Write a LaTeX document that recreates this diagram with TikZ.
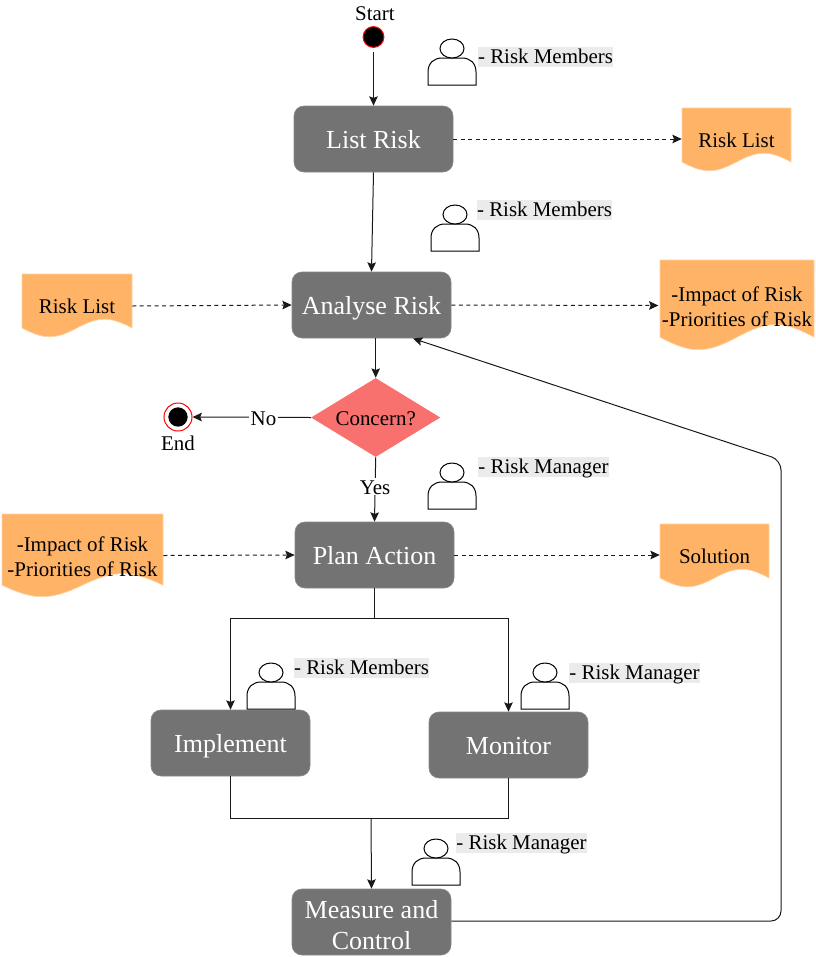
\documentclass[tikz,border=0pt]{standalone}
\usepackage{fontspec}
\setmainfont{Liberation Serif}
\usetikzlibrary{arrows.meta,shapes.geometric,calc}
\definecolor{boxgrey}{HTML}{737373}
\definecolor{docfill}{HTML}{FFB366}
\definecolor{docline}{HTML}{FFD2A6}
\definecolor{labgrey}{HTML}{EBEBEB}
\definecolor{diafill}{HTML}{F8716F}
\definecolor{startred}{HTML}{FF0000}
\newcommand{\basestrut}{\vrule height 14.3pt depth 3.7pt width 0pt\relax}
\newcommand{\stagestrut}{\vrule height 19pt depth 4.2pt width 0pt\relax}
\newcommand{\lowerbase}{\vrule height 16.55pt depth 0pt width 0pt\relax}
\newcommand{\lowerstage}{\vrule height 22pt depth 0pt width 0pt\relax}
\newcommand{\lowerdia}{\vrule height 15.6pt depth 0pt width 0pt\relax}
\tikzset{
  basestruts/.style={execute at begin node=\basestrut,execute at end node=\basestrut},
  stagestruts/.style={execute at begin node=\stagestrut,execute at end node=\stagestrut},
  basetext/.style={font=\fontsize{15.7}{18.75}\selectfont,text=black,align=center,inner sep=0pt,basestruts},
  stagebox/.style={rectangle,rounded corners=7.5pt,fill=boxgrey,draw=boxgrey!85,line width=.5pt,
    minimum width=119.25pt,minimum height=49.5pt,inner sep=0pt,text=white,align=center,stagestruts,
    font=\fontsize{19.5}{23.25}\selectfont},
  decision/.style={diamond,aspect=1.62,fill=diafill,inner sep=0pt,minimum width=97pt,minimum height=59.25pt,
    font=\fontsize{15.7}{18.75}\selectfont,text=black,basestruts},
  flow/.style={-{Stealth[length=7pt,width=6.4pt,inset=1.2pt]},line width=.75pt,draw=black!90},
  plainline/.style={line width=.75pt,draw=black!90},
  dataflow/.style={flow,dash pattern=on 3pt off 2.6pt},
  rolelabel/.style={font=\fontsize{15.7}{18.75}\selectfont,text=black,inner xsep=0pt,inner ysep=0pt,fill=labgrey,anchor=center,text height=12pt,text depth=3pt},
  personline/.style={line width=.75pt,draw=black,fill=white},
  edgelabel/.style={font=\fontsize{15.7}{18.75}\selectfont,text=black,fill=white,inner xsep=1pt,inner ysep=0pt,text height=12.1pt,text depth=.4pt},
}
\newcommand{\docnode}[4]{% x1 y1 x2 y2
  \fill[docfill,draw=docline,line width=.5pt]
    let \n1={#1},\n2={#2},\n3={#3},\n4={#4},\n5={(#3-#1)},\n6={(#4-#2)/7},\n7={#4-(#4-#2)/7} in
    (\n1,\n2) -- (\n3,\n2) -- (\n3,\n7)
    .. controls ({\n3-.2*\n5},{\n7-1.3*\n6}) and ({\n3-.3*\n5},{\n7-1.3*\n6}) .. ({\n1+.5*\n5},\n7)
    .. controls ({\n1+.3*\n5},{\n7+1.3*\n6}) and ({\n1+.2*\n5},{\n7+1.3*\n6}) .. (\n1,\n7) -- cycle;
}
\newcommand{\persona}[2]{%
  \begin{scope}[shift={(#1,#2)}]
    \draw[personline] (0,46) -- (0,33) .. controls (0,24) and (6,19) .. (14,19) -- (34,19)
       .. controls (42,19) and (48,24) .. (48,33) -- (48,46) -- cycle;
    \draw[personline] (24,9.5) ellipse [x radius=12,y radius=9.5];
  \end{scope}}
\begin{document}
\begin{tikzpicture}[x=.75pt,y=-.75pt]
\useasboundingbox (0,0) rectangle (816,957);
% documents
\docnode{682}{108}{791}{171}
\docnode{660}{260}{814}{350}
\docnode{22}{274}{132}{337}
\docnode{2}{514}{163}{597}
\docnode{660}{524}{769}{587}
\node[basetext,minimum width=81.75pt] (docA) at (736.5,140) {Risk List};
\node[basetext,minimum width=115.5pt] (docB) at (737,305.5) {\lowerbase -Impact of Risk\\-Priorities of Risk};
\node[basetext,minimum width=82.5pt] (docC) at (77,306) {Risk List};
\node[basetext,minimum width=120.75pt] (docD) at (82.5,555.5) {\lowerbase -Impact of Risk\\-Priorities of Risk};
\node[basetext,minimum width=81.75pt] (docE) at (714.5,556) {Solution};
% stages
\node[stagebox] (list) at (373.5,139) {List Risk};
\node[stagebox] (analyse) at (371.5,305) {Analyse Risk};
\node[stagebox] (plan) at (374.5,555) {Plan Action};
\node[stagebox] (impl) at (230.5,743) {Implement};
\node[stagebox] (moni) at (508.5,745) {Monitor};
\node[stagebox] (meas) at (371.5,922) {\lowerstage Measure and\\Control};
\node[decision] (concern) at (375.7,417.5) {\lowerdia Concern?};
% start / end
\node[circle,fill=black,draw=startred,line width=.75pt,minimum size=15.6pt,inner sep=0pt] (start) at (373.5,37) {};
\node[basetext] (startlabel) at (375,13) {Start};
\node[circle,draw=startred,line width=.75pt,minimum size=21pt,inner sep=0pt] (endo) at (178,417) {};
\node[circle,fill=black,minimum size=14.5pt,inner sep=0pt] (endi) at (178,417) {};
\node[basetext] (endlabel) at (178,443) {End};
% junctions
\coordinate (j1) at (plan.south |- 0,618);
\coordinate (jl) at (impl.north |- j1);
\coordinate (jr) at (moni.north |- j1);
\coordinate (k1) at (impl.south |- 0,818);
\coordinate (k2) at (moni.south |- k1);
\coordinate (k3) at (371,818);
\coordinate (c1) at (781,921);
\coordinate (c2) at (781,460);
\coordinate (an1) at (413,338.5);
% connectors
\draw[flow] ([yshift=-3pt]start.south) -- (list.north);
\draw[flow] (list.south) -- (analyse.north);
\draw[flow] (analyse.south -| concern.north) -- (concern.north);
\draw[flow] (concern.west) -- node[edgelabel,pos=.40] (nolabel) {No} (endo.east);
\draw[flow] (concern.south) -- node[edgelabel,pos=.45] (yeslabel) {Yes} (plan.north);
\draw[dataflow] (list.east) -- (list.east -| docA.west);
\draw[dataflow] (docC.east) -- (analyse.west);
\draw[dataflow] (analyse.east) -- ([xshift=-1pt]docB.west);
\draw[dataflow] (docD.east) -- (plan.west);
\draw[dataflow] (plan.east) -- (plan.east -| docE.west);
\draw[plainline] (plan.south) -- (j1);
\draw[flow] (j1) -- (jl) -- (impl.north);
\draw[flow] (j1) -- (jr) -- (moni.north);
\draw[plainline] (impl.south) -- (k1) -- (k2) -- (moni.south);
\draw[flow] (k3) -- (meas.north);
\draw[flow,rounded corners=7.5pt] (meas.east |- c1) -- (c1) -- (c2) -- (an1);
% people
\persona{428}{39}
\persona{431}{205}
\persona{428}{463}
\persona{247}{663}
\persona{521}{663}
\persona{412}{839}
\node[rolelabel] (r1) at (545.5,57) {- Risk Members};
\node[rolelabel] (r2) at (544.5,210) {- Risk Members};
\node[rolelabel] (r3) at (543.5,467) {- Risk Manager};
\node[rolelabel] (r4) at (361.5,668) {- Risk Members};
\node[rolelabel] (r5) at (634.5,673) {- Risk Manager};
\node[rolelabel] (r6) at (521.5,843) {- Risk Manager};
\end{tikzpicture}
\end{document}
